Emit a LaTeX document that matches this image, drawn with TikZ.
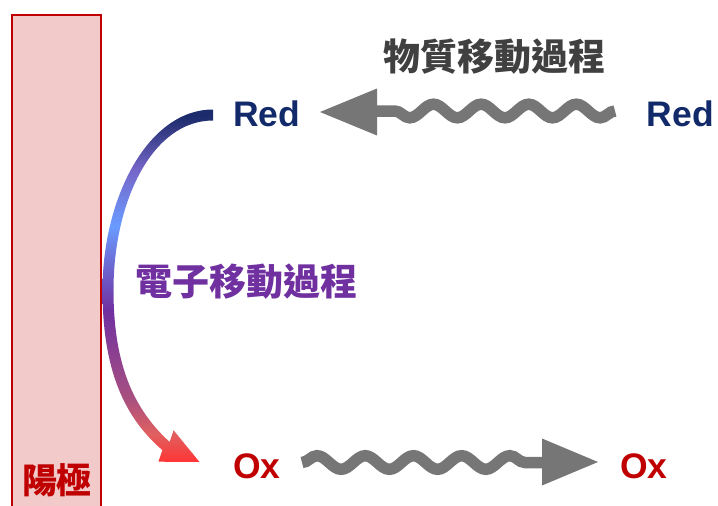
\documentclass[tikz,border=0pt]{standalone}
\usepackage{fontspec}
\setmainfont{Liberation Sans}
\newfontfamily\cjk{Noto Sans CJK TC}
\usetikzlibrary{decorations.pathmorphing}
\definecolor{navyT}{HTML}{122A6A}
\definecolor{oxred}{HTML}{C00000}
\definecolor{wavegray}{HTML}{767676}
\definecolor{titlegray}{HTML}{404040}
\definecolor{elpurple}{HTML}{7030A0}
\definecolor{anodefill}{HTML}{F2CACA}
\definecolor{gRed}{HTML}{FF3434}
\definecolor{gSalmon}{HTML}{E06060}
\definecolor{gMauve}{HTML}{A85080}
\definecolor{gPurple}{HTML}{7030A0}
\definecolor{gBlue}{HTML}{6A9BFF}
\definecolor{gLav}{HTML}{7566C8}
\definecolor{gNavy}{HTML}{1C2B6B}
\pgfdeclareverticalshading{elecshade}{100bp}{color(0bp)=(gRed); color(25bp)=(gRed); color(29bp)=(gSalmon); color(34bp)=(gMauve); color(46.5bp)=(gPurple); color(58.5bp)=(gBlue); color(66.5bp)=(gLav); color(74bp)=(gNavy); color(100bp)=(gNavy)}
\tikzset{
  species/.style={font=\bfseries\fontsize{35.5}{40}\selectfont, inner sep=0pt},
  cjklabel/.style={font=\cjk\bfseries\fontsize{37}{42}\selectfont, inner sep=0pt},
  wave/.style={draw=wavegray, line width=11.5pt, decorate},
  wavehead/.style={fill=wavegray},
}
\begin{document}
\begin{tikzpicture}[x=1pt, y=-1pt]
\useasboundingbox (0,0) rectangle (718,506);
% anode
\draw[draw=oxred, fill=anodefill, line width=2pt] (12,15) rectangle (101,512);
\node[cjklabel, font=\cjk\bfseries\fontsize{35}{40}\selectfont, text=oxred] (anode) at (57,480) {陽極};
% species
\node[species, text=navyT, anchor=base west] (redL) at (233,126) {Red};
\node[species, text=navyT, anchor=base east] (redR) at (714,126) {Red};
\node[species, text=oxred, anchor=base west] (oxL) at (233,478) {Ox};
\node[species, text=oxred, anchor=base west] (oxR) at (620,478) {Ox};
% titles
\node[cjklabel, text=titlegray] (mass) at (494,57) {物質移動過程};
\node[cjklabel, text=elpurple] (elec) at (246,282) {電子移動過程};
% mass transport arrow (top, leftwards)
\coordinate (t0) at (615,111);
\coordinate (t1) at (377,111);
\coordinate (ttip) at (320,112);
\draw[wave, decoration={snake, segment length=47.6pt, amplitude=6.8pt}] (t0) -- (t1);
\fill[wavehead] (ttip) -- (377,88.5) -- (377,135.5) -- cycle;
% mass transport arrow (bottom, rightwards)
\coordinate (b0) at (302,462.5);
\coordinate (b1) at (543,462.5);
\coordinate (btip) at (598,462);
\draw[wave, decoration={snake, segment length=48.2pt, amplitude=6.8pt}] (b0) -- (b1);
\fill[wavehead] (btip) -- (542,438.5) -- (542,485.5) -- cycle;
% electron transfer arrow (gradient)
\shade[shading=elecshade]
  (213,109.5) .. controls (148,109.5) and (102.5,198) .. (102.5,290)
  .. controls (102.5,362) and (120,414) .. (162.4,450.1)
  -- (158.4,461.7) -- (199.5,462) -- (173.6,430.3) -- (169.6,441.9)
  .. controls (130,406) and (113.5,358) .. (113.5,290)
  .. controls (113.5,202) and (152,120.5) .. (213,120.5) -- cycle;
\end{tikzpicture}
\end{document}
